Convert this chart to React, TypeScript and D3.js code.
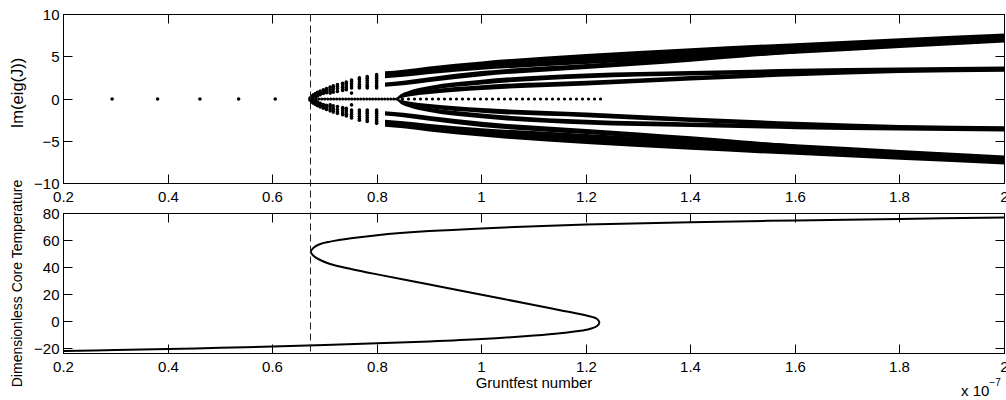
import { useRef, useEffect } from 'react';
import * as d3 from 'd3';

// x axis: Gruntfest number (x 10^-7)
const xTicks = [0.2, 0.4, 0.6, 0.8, 1, 1.2, 1.4, 1.6, 1.8, 2];
const imTicks = [-10, -5, 0, 5, 10];
const tempTicks = [-20, 0, 20, 40, 60, 80];
const foldX = 0.673;

// real eigenvalues (Im = 0) before the fold
const loneDotsX = [0.293, 0.38, 0.461, 0.535, 0.605];
// rows of dots at Im = 0: start, end, dot spacing (px)
const zeroRows = [
  [0.671, 0.837, 3],
  [0.837, 1.228, 6],
];

// fan of complex pairs just after the fold (positive half, mirrored)
const fanX = [0.672, 0.675, 0.678, 0.682, 0.686, 0.691, 0.697, 0.703, 0.71, 0.716, 0.724, 0.734, 0.741, 0.751, 0.766, 0.781, 0.799];
const fanIm = [
  [0.15], [0.35, 0.2], [0.5, 0.3], [0.65, 0.45, 0.25], [0.8, 0.6, 0.35], [0.95, 0.75, 0.5],
  [1.1, 0.9, 0.65], [1.25, 1.0, 0.75], [1.4, 1.15, 0.9, 0.7], [1.55, 1.35, 1.1, 0.8],
  [1.7, 1.5, 1.25, 0.9], [1.85, 1.65, 1.4, 1.15, 1.0], [2.0, 1.8, 1.55, 1.3, 1.1],
  [2.25, 2.05, 1.8, 1.55, 1.3, 0.7], [2.5, 2.3, 2.05, 1.75, 1.5, 1.3],
  [2.65, 2.45, 2.2, 1.95, 1.7, 1.5, 1.3], [2.88, 2.65, 2.45, 2.2, 1.95, 1.7, 1.5, 1.3],
];

// dense bands of eigenvalues on the upper branch: centre and half width (positive half, mirrored)
const bandAX = [0.815, 0.85, 0.9, 1.0, 1.2, 1.4, 1.6, 1.8, 2.0];
const bandAIm = [2.87, 3.05, 3.4, 3.95, 4.73, 5.4, 5.98, 6.62, 7.22];
const bandAHalf = [0.4, 0.42, 0.45, 0.5, 0.6, 0.62, 0.63, 0.58, 0.53];

const bandBX = [0.815, 0.85, 0.9, 1.0, 1.2, 1.3, 1.4, 1.5, 1.6];
const bandBIm = [1.7, 1.9, 2.3, 3.0, 3.85, 4.25, 4.72, 5.2, 5.62];
const bandBHalf = [0.26, 0.27, 0.28, 0.3, 0.3, 0.3, 0.3, 0.28, 0.25];

const bandCX = [0.837, 0.845, 0.86, 0.9, 1.0, 1.2, 1.4, 1.6, 1.8, 2.0];
const bandCIm = [0, 0.4, 0.75, 1.3, 2.0, 2.75, 3.05, 3.3, 3.45, 3.58];
const bandDIm = [0, 0.25, 0.5, 0.85, 1.35, 1.87, 2.45, 2.95, 3.35, 3.5];
const bandCDHalf = [0.1, 0.15, 0.2, 0.25, 0.28, 0.28, 0.27, 0.27, 0.27, 0.27];

// S-curve: dimensionless core temperature vs Gruntfest number
const curveX = [0.2, 0.3, 0.4, 0.5, 0.6, 0.7, 0.8, 0.9, 1.0, 1.1, 1.15, 1.2, 1.22, 1.225,
  1.22, 1.2, 1.15, 1.1, 1.0, 0.9, 0.8, 0.75, 0.71, 0.69, 0.678, 0.673,
  0.678, 0.69, 0.71, 0.75, 0.8, 0.9, 1.0, 1.2, 1.4, 1.6, 1.8, 2.0];
const curveT = [-21.7, -21.0, -20.2, -19.3, -18.3, -17.2, -16.0, -14.6, -12.8, -10.2, -8.5, -6.0, -3.4, -0.5,
  2.2, 4.6, 8.5, 12.3, 20.0, 27.5, 35.0, 39.0, 42.7, 45.8, 48.8, 51.5,
  54.6, 57.3, 59.2, 61.7, 64.0, 67.0, 69.0, 71.8, 73.5, 74.9, 76.0, 77.0];

const FONT = '"Liberation Sans", Arial, Helvetica, sans-serif';

export default function App() {
  const svgRef = useRef(null);

  useEffect(() => {
    const svg = d3.select(svgRef.current);
    svg.selectAll('*').remove();

    const x = d3.scaleLinear().domain([0.2, 2]).range([63.5, 1004.5]);
    const yTop = d3.scaleLinear().domain([-10, 10]).range([183.5, 14.5]);
    const yBot = d3.scaleLinear().domain([-23.5, 80]).range([353.5, 213.5]);
    const snap = (v: number) => Math.round(v - 0.5) + 0.5;
    const fmt = (v: number) => String(v).replace('-', '\u2212');

    const clip = svg.append('defs').append('clipPath').attr('id', 'topclip');
    clip.append('rect').attr('x', 63.5).attr('y', 14.5).attr('width', 941).attr('height', 169);

    // ---- top panel: Im(eig(J))
    const top = svg.append('g');
    const data = top.append('g').attr('clip-path', 'url(#topclip)');

    const bands = [
      { xs: bandAX, c: bandAIm, h: bandAHalf },
      { xs: bandBX, c: bandBIm, h: bandBHalf },
      { xs: bandCX, c: bandCIm, h: bandCDHalf },
      { xs: bandCX, c: bandDIm, h: bandCDHalf },
    ];
    bands.forEach(b => {
      const pts = b.xs.map((v, i) => ({ x: v, c: b.c[i], h: b.h[i] }));
      [1, -1].forEach(s => {
        const area = d3.area<any>()
          .x(d => x(d.x))
          .y0(d => yTop(s * (d.c - d.h)))
          .y1(d => yTop(s * (d.c + d.h)))
          .curve(d3.curveMonotoneX);
        data.append('path').datum(pts).attr('d', area).attr('fill', '#000');
      });
    });

    zeroRows.forEach(([a, b, sp]) => {
      data.append('line')
        .attr('x1', x(a)).attr('x2', x(b)).attr('y1', yTop(0)).attr('y2', yTop(0))
        .attr('stroke', '#000').attr('stroke-width', 3.2).attr('stroke-linecap', 'round')
        .attr('stroke-dasharray', `0 ${sp}`);
    });

    const dots: [number, number][] = loneDotsX.map(v => [v, 0]);
    fanX.forEach((v, i) => fanIm[i].forEach(im => { dots.push([v, im]); dots.push([v, -im]); }));
    data.selectAll('.dot').data(dots).join('circle').attr('class', 'dot')
      .attr('cx', d => x(d[0])).attr('cy', d => yTop(d[1])).attr('r', 1.8).attr('fill', '#000');

    frame(top, x, yTop, imTicks, snap, fmt);
    top.append('text').attr('font-family', FONT).attr('font-size', 16.5).attr('text-anchor', 'middle')
      .attr('transform', `translate(23,${yTop(0) - 6}) rotate(-90)`).text('Im(eig(J))');

    // ---- bottom panel: core temperature S-curve
    const bot = svg.append('g');
    const line = d3.line<number>()
      .x(d => x(curveX[d]))
      .y(d => yBot(curveT[d]))
      .curve(d3.curveCatmullRom.alpha(0.5));
    bot.append('path').datum(d3.range(curveX.length)).attr('d', line)
      .attr('fill', 'none').attr('stroke', '#000').attr('stroke-width', 2);

    frame(bot, x, yBot, tempTicks, snap, fmt);
    bot.append('text').attr('font-family', FONT).attr('font-size', 14).attr('text-anchor', 'middle')
      .attr('transform', `translate(22,${(213.5 + 353.5) / 2}) rotate(-90)`).text('Dimensionless Core Temperature');
    bot.append('text').attr('font-family', FONT).attr('font-size', 15).attr('text-anchor', 'middle')
      .attr('x', (63.5 + 1004.5) / 2).attr('y', 388).text('Gruntfest number');
    const ex = bot.append('text').attr('font-family', FONT).attr('font-size', 15).attr('x', 961).attr('y', 396);
    ex.append('tspan').text('x 10');
    ex.append('tspan').attr('font-size', 10).attr('dy', -10).text('\u22127');

    // fold marker spanning both panels
    svg.append('line')
      .attr('x1', snap(x(foldX))).attr('x2', snap(x(foldX)))
      .attr('y1', yTop(10)).attr('y2', yBot(-23.5))
      .attr('stroke', '#222').attr('stroke-width', 1).attr('stroke-dasharray', '7,4');
  }, []);

  return (
    <div style={{ position: 'absolute', left: 0, top: 0 }}>
      <svg ref={svgRef} width={1006} height={400} style={{ display: 'block', background: '#fff' }} />
    </div>
  );
}

function frame(g: any, x: any, y: any, yTicks: number[], snap: (v: number) => number, fmt: (v: number) => string) {
  const [x0, x1] = x.range();
  const [yb, yt] = y.range();
  const tl = 9;
  xTicks.forEach(t => {
    const px = snap(x(t));
    g.append('line').attr('x1', px).attr('x2', px).attr('y1', yb).attr('y2', yb - tl).attr('stroke', '#000');
    g.append('line').attr('x1', px).attr('x2', px).attr('y1', yt).attr('y2', yt + tl).attr('stroke', '#000');
    g.append('text').attr('font-family', FONT).attr('font-size', 15).attr('text-anchor', 'middle')
      .attr('x', px).attr('y', yb + 18).text(fmt(t));
  });
  yTicks.forEach(t => {
    const py = snap(y(t));
    g.append('line').attr('x1', x0).attr('x2', x0 + tl).attr('y1', py).attr('y2', py).attr('stroke', '#000');
    g.append('line').attr('x1', x1).attr('x2', x1 - tl).attr('y1', py).attr('y2', py).attr('stroke', '#000');
    g.append('text').attr('font-family', FONT).attr('font-size', 15).attr('text-anchor', 'end')
      .attr('x', x0 - 4).attr('y', py).attr('dy', '0.36em').text(fmt(t));
  });
  g.append('rect').attr('x', x0).attr('y', yt).attr('width', x1 - x0).attr('height', yb - yt)
    .attr('fill', 'none').attr('stroke', '#000').attr('stroke-width', 1);
}
